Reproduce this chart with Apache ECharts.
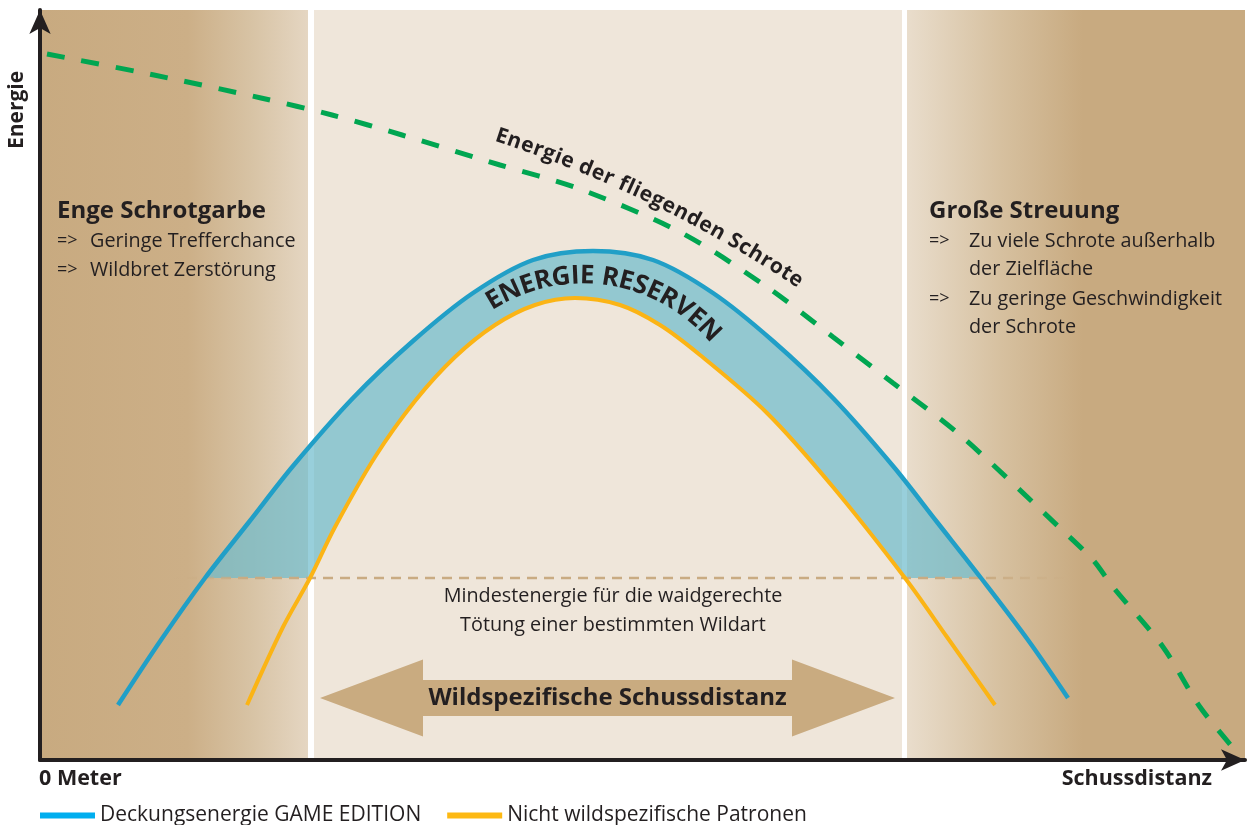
<!DOCTYPE html>
<html>
<head>
<meta charset="utf-8">
<script src="https://cdn.jsdelivr.net/npm/echarts@6/dist/echarts.min.js"></script>
<style>
html, body { margin: 0; padding: 0; background: #fff; }
#chart { width: 1247px; height: 825px; }
</style>
</head>
<body>
<div id="chart"></div>
<script>
// Energie der fliegenden Schrote (gruen, gestrichelt)
var schroteEnergie = [[0.7, 70.6], [11.4, 68.5], [22.1, 66.2], [29.2, 64.5], [36.2, 62.5], [46, 59.5],
    [53.7, 57.2], [64, 52.8], [72.7, 47.3], [79.3, 42.3], [85.3, 37.7], [92, 32.5], [102, 23.2],
    [105.3, 20], [107.3, 17.3], [112.3, 11.3], [116, 5.3], [119.5, 1.0]];
// Deckungsenergie GAME EDITION (blau)
var gameEdition = [[7.8, 5.5], [12.1, 12.0], [16.5, 18.2], [20.9, 23.8], [25.3, 29.4], [31.3, 36.2], [37.3, 41.9],
    [43.3, 46.7], [49.3, 50.0], [55.3, 50.9], [61.3, 50.0], [67.3, 46.7], [73.3, 41.9], [79.3, 36.2],
    [85.3, 29.4], [89.7, 23.8], [94.1, 18.2], [98.8, 12.0], [102.8, 6.2]];
// Nicht wildspezifische Patronen (orange)
var nichtSpezifisch = [[20.7, 5.5], [24.3, 13.3], [27.0, 18.2], [29.5, 23.3], [33.5, 30.3], [37.5, 35.9],
    [41.5, 40.3], [45.5, 43.5], [49.5, 45.5], [53.5, 46.2], [58, 45.5], [62, 43.5], [66, 40.5],
    [72.7, 34.7], [79.3, 27.3], [86.5, 18.2], [90.7, 12.3], [95.5, 5.5]];
var mindestEnergie = 18.2;
var mindestLinie = [13, 104];
var zonen = [[0, 26.8], [27.4, 86.2], [86.7, 120.5]];
var schussdistanz = [[28, 85.5, 6.2]];
var legendNamen = ['Deckungsenergie GAME EDITION', 'Nicht wildspezifische Patronen'];

var FF = '"Open Sans", "Noto Sans", sans-serif';
var INK = '#231f20';
var SMOOTH = 0.33;
var myChart = echarts.init(document.getElementById('chart'));

function lg(x0, x1, stops) {
    return new echarts.graphic.LinearGradient(x0, 0, x1, 0, stops, true);
}

// einzelne Buchstaben entlang eines Pfades setzen
function textOnPath(str, pts, font) {
    var ctx = document.createElement('canvas').getContext('2d');
    ctx.font = font;
    var lens = [0];
    for (var i = 1; i < pts.length; i++) {
        lens.push(lens[i - 1] + Math.hypot(pts[i][0] - pts[i - 1][0], pts[i][1] - pts[i - 1][1]));
    }
    var total = lens[lens.length - 1];
    var chars = str.split('');
    var widths = chars.map(function (c) { return ctx.measureText(c).width; });
    var sum = widths.reduce(function (a, b) { return a + b; }, 0);
    var gap = (total - sum) / (chars.length - 1);
    var out = [], s = 0;
    chars.forEach(function (c, k) {
        var m = s + widths[k] / 2;
        var j = 0;
        while (j < lens.length - 2 && lens[j + 1] < m) j++;
        var t = (m - lens[j]) / (lens[j + 1] - lens[j]);
        var dx = pts[j + 1][0] - pts[j][0], dy = pts[j + 1][1] - pts[j][1];
        if (c !== ' ') {
            out.push({
                type: 'text', z: 20, silent: true,
                x: pts[j][0] + dx * t, y: pts[j][1] + dy * t,
                rotation: -Math.atan2(dy, dx),
                style: { text: c, font: font, fill: INK, align: 'center', verticalAlign: 'middle' }
            });
        }
        s += widths[k] + gap;
    });
    return out;
}

var arcPts = [];
for (var a = -33; a <= 50; a += 1) {
    var r = a * Math.PI / 180;
    arcPts.push([583 + 174 * Math.sin(r), 450 - 174 * Math.cos(r)]);
}
var bezPts = [];
for (var i = 0; i <= 40; i++) {
    var t = i / 40, u = 1 - t;
    bezPts.push([u * u * 496 + 2 * u * t * 659 + t * t * 801, u * u * 135 + 2 * u * t * 188 + t * t * 283]);
}

function txt(text, x, y, font, align) {
    return {
        type: 'text', x: x, y: y, z: 20, silent: true,
        style: { text: text, font: font, fill: INK, align: align || 'left', verticalAlign: 'middle' }
    };
}
var B24 = 'bold 24px ' + FF, R20 = '19.8px ' + FF, R18 = '18px ' + FF;

var graphics = [
    { type: 'text', x: 17, y: 110, rotation: Math.PI / 2, z: 20,
      style: { text: 'Energie', font: 'bold 21px ' + FF, fill: INK, align: 'center', verticalAlign: 'middle' } },
    txt('0 Meter', 39, 779, 'bold 21.5px ' + FF),
    txt('Schussdistanz', 1212, 779, 'bold 21.5px ' + FF, 'right'),
    txt('Enge Schrotgarbe', 57, 211, B24),
    txt('=>', 57, 241, R18), txt('Geringe Trefferchance', 90, 241, R20),
    txt('=>', 57, 270, R18), txt('Wildbret Zerstörung', 90, 270, R20),
    txt('Große Streuung', 929, 211, B24),
    txt('=>', 929, 241, R18), txt('Zu viele Schrote außerhalb', 969, 241, R20),
    txt('der Zielfläche', 969, 269, R20),
    txt('=>', 929, 299, R18), txt('Zu geringe Geschwindigkeit', 969, 299, R20),
    txt('der Schrote', 969, 327, R20),
    txt('Mindestenergie für die waidgerechte', 613, 596, R20, 'center'),
    txt('Tötung einer bestimmten Wildart', 613, 625, R20, 'center')
].concat(textOnPath('ENERGIE RESERVEN', arcPts, 'bold 26px ' + FF))
 .concat(textOnPath('Energie der fliegenden Schrote', bezPts, 'bold 21px ' + FF));

var option = {
    backgroundColor: '#fff',
    animation: false,
    grid: { left: 40, right: 2, top: 10, bottom: 65 },
    xAxis: {
        type: 'value', min: 0, max: 120.5, z: 10,
        axisLine: { show: true, symbol: ['none', 'arrow'], symbolSize: [16, 24],
            lineStyle: { color: INK, width: 4 } },
        axisTick: { show: false }, axisLabel: { show: false }, splitLine: { show: false }
    },
    yAxis: {
        type: 'value', min: 0, max: 75, z: 10,
        axisLine: { show: true, symbol: ['none', 'arrow'], symbolSize: [16, 24],
            lineStyle: { color: INK, width: 4 } },
        axisTick: { show: false }, axisLabel: { show: false }, splitLine: { show: false }
    },
    legend: {
        left: 35, top: 800, itemWidth: 55, itemHeight: 6, itemGap: 26,
        textStyle: { color: INK, fontSize: 21, fontFamily: FF },
        data: [
            { name: legendNamen[0], icon: 'rect', itemStyle: { color: '#00aeef' } },
            { name: legendNamen[1], icon: 'rect', itemStyle: { color: '#fdb913' } }
        ]
    },
    graphic: graphics,
    series: [
        {
            type: 'line', data: [], z: 1, silent: true,
            markArea: {
                silent: true,
                data: [
                    [{ xAxis: zonen[0][0], itemStyle: { color: lg(40, 308,
                        [{ offset: 0, color: '#c8aa80' }, { offset: 0.55, color: '#ccaf87' },
                         { offset: 0.8, color: '#d8c4a6' }, { offset: 1, color: '#e5d6c2' }]) } },
                     { xAxis: zonen[0][1] }],
                    [{ xAxis: zonen[1][0], itemStyle: { color: '#efe6da' } }, { xAxis: zonen[1][1] }],
                    [{ xAxis: zonen[2][0], itemStyle: { color: lg(907, 1245,
                        [{ offset: 0, color: '#e9ddcc' }, { offset: 0.28, color: '#d6c09f' },
                         { offset: 0.52, color: '#c8aa80' }, { offset: 1, color: '#c8aa80' }]) } },
                     { xAxis: zonen[2][1] }]
                ]
            }
        },
        {
            type: 'line', z: 2, silent: true, smooth: SMOOTH, symbol: 'none',
            data: gameEdition.filter(function (p) { return p[1] >= mindestEnergie - 0.01; }),
            lineStyle: { width: 0 },
            areaStyle: { color: 'rgba(108,186,204,0.7)', origin: mindestEnergie, opacity: 1 }
        },
        {
            type: 'line', z: 3, silent: true, smooth: SMOOTH, symbol: 'none',
            data: nichtSpezifisch.filter(function (p) { return p[1] >= mindestEnergie - 0.01; }),
            lineStyle: { width: 0 },
            areaStyle: { color: '#efe6da', origin: mindestEnergie, opacity: 1 }
        },
        {
            type: 'line', z: 4, silent: true, symbol: 'none',
            data: [[mindestLinie[0], mindestEnergie], [mindestLinie[1], mindestEnergie]],
            lineStyle: { width: 2.5, type: [10, 7], color: lg(170, 1080,
                [{ offset: 0, color: 'rgba(201,171,130,0)' }, { offset: 0.08, color: 'rgba(201,171,130,1)' },
                 { offset: 0.9, color: 'rgba(201,171,130,1)' }, { offset: 1, color: 'rgba(201,171,130,0)' }]) }
        },
        {
            name: legendNamen[0], type: 'line', z: 5, smooth: SMOOTH, symbol: 'none',
            data: gameEdition, color: '#219fc7',
            lineStyle: { width: 4.5, color: '#219fc7' }
        },
        {
            name: legendNamen[1], type: 'line', z: 5, smooth: SMOOTH, symbol: 'none',
            data: nichtSpezifisch, color: '#fbb415',
            lineStyle: { width: 4, color: '#fbb415' }
        },
        {
            type: 'line', z: 5, smooth: 0.3, symbol: 'none', silent: true,
            data: schroteEnergie,
            lineStyle: { width: 5, type: [18, 17], color: '#00a651' }
        },
        {
            type: 'custom', z: 6, silent: true,
            data: schussdistanz,
            renderItem: function (params, api) {
                var a = api.coord([api.value(0), api.value(2)]);
                var b = api.coord([api.value(1), api.value(2)]);
                var cy = a[1], head = 103, hh = 38.5, sh = 18;
                var pts = [[a[0], cy], [a[0] + head, cy - hh], [a[0] + head, cy - sh], [b[0] - head, cy - sh],
                    [b[0] - head, cy - hh], [b[0], cy], [b[0] - head, cy + hh], [b[0] - head, cy + sh],
                    [a[0] + head, cy + sh], [a[0] + head, cy + hh]];
                return {
                    type: 'group',
                    children: [
                        { type: 'polygon', shape: { points: pts }, style: { fill: '#c9ab80' } },
                        { type: 'text', x: (a[0] + b[0]) / 2, y: cy,
                          style: { text: 'Wildspezifische Schussdistanz', font: 'bold 24px ' + FF,
                                   fill: INK, align: 'center', verticalAlign: 'middle' } }
                    ]
                };
            }
        }
    ]
};
myChart.setOption(option);
</script>
</body>
</html>
